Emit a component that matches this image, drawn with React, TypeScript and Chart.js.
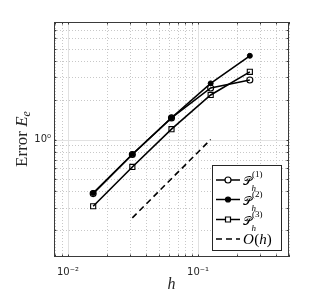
import React, { useEffect, useRef } from 'react';
import { Chart, registerables } from 'chart.js';
Chart.register(...registerables);

const hValues = [0.015625, 0.03125, 0.0625, 0.125, 0.25];
const errP1 = [0.384, 0.767, 1.466, 2.49, 2.87];
const errP2 = [0.388, 0.77, 1.47, 2.7, 4.4];
const errP3 = [0.307, 0.615, 1.2, 2.2, 3.31];
const hRef = [0.03125, 0.125];
const orderRef = [0.25, 1.0];
const xLimits = [0.0078125, 0.5];
const yLimits = [0.125, 8];
const xTickValues = [0.01, 0.1];
const xTickLabels = ['10⁻²', '10⁻¹'];
const yTickValues = [1];
const yTickLabels = ['10⁰'];
const legendSup = ['(1)', '(2)', '(3)'];

const SERIF = "'Liberation Serif', 'DejaVu Serif', serif";

function logGrid(min: number, max: number) {
  const out: { v: number; major: boolean }[] = [];
  for (let e = -4; e <= 2; e++) {
    for (let m = 1; m <= 9; m++) {
      const v = m * Math.pow(10, e);
      if (v >= min * 0.9999 && v <= max * 1.0001) out.push({ v, major: m === 1 });
    }
  }
  return out;
}

const gridPlugin = {
  id: 'matlabGrid',
  beforeDatasetsDraw(chart: any) {
    const { ctx, chartArea: a, scales } = chart;
    const xs = scales.x, ys = scales.y;
    ctx.save();
    const draw = (major: boolean) => {
      ctx.strokeStyle = major ? '#e2e2e2' : '#c8c8c8';
      ctx.lineWidth = 1;
      ctx.setLineDash(major ? [] : [1, 2]);
      logGrid(xLimits[0], xLimits[1]).filter(g => g.major === major).forEach(g => {
        const px = Math.round(xs.getPixelForValue(g.v)) + 0.5;
        ctx.beginPath(); ctx.moveTo(px, a.top); ctx.lineTo(px, a.bottom); ctx.stroke();
      });
      logGrid(yLimits[0], yLimits[1]).filter(g => g.major === major).forEach(g => {
        const py = Math.round(ys.getPixelForValue(g.v)) + 0.5;
        ctx.beginPath(); ctx.moveTo(a.left, py); ctx.lineTo(a.right, py); ctx.stroke();
      });
    };
    draw(false);
    draw(true);
    ctx.restore();
  },
  afterDatasetsDraw(chart: any) {
    const { ctx, chartArea: a, scales } = chart;
    const xs = scales.x, ys = scales.y;
    ctx.save();
    ctx.setLineDash([]);
    ctx.strokeStyle = '#3a3a3a';
    ctx.lineWidth = 1;
    const tl = 2.5;
    logGrid(xLimits[0], xLimits[1]).forEach(g => {
      const px = Math.round(xs.getPixelForValue(g.v)) + 0.5;
      ctx.beginPath();
      ctx.moveTo(px, a.bottom); ctx.lineTo(px, a.bottom - tl);
      ctx.moveTo(px, a.top); ctx.lineTo(px, a.top + tl);
      ctx.stroke();
    });
    logGrid(yLimits[0], yLimits[1]).forEach(g => {
      const py = Math.round(ys.getPixelForValue(g.v)) + 0.5;
      ctx.beginPath();
      ctx.moveTo(a.left, py); ctx.lineTo(a.left + tl, py);
      ctx.moveTo(a.right, py); ctx.lineTo(a.right - tl, py);
      ctx.stroke();
    });
    ctx.strokeRect(Math.round(a.left) + 0.5, Math.round(a.top) + 0.5, Math.round(a.right - a.left) - 1, Math.round(a.bottom - a.top) - 1);
    ctx.restore();
  },
  afterDraw(chart: any) {
    const { ctx, chartArea: a } = chart;
    ctx.save();
    ctx.fillStyle = '#262626';
    // x title
    ctx.font = `italic 16px ${SERIF}`;
    ctx.textAlign = 'center';
    ctx.textBaseline = 'alphabetic';
    ctx.fillText('h', (a.left + a.right) / 2, 289);
    // y title
    ctx.save();
    ctx.translate(27, 139);
    ctx.rotate(-Math.PI / 2);
    ctx.textAlign = 'left';
    const t1 = 'Error ';
    ctx.font = `17px ${SERIF}`;
    const w1 = ctx.measureText(t1).width;
    ctx.font = `italic 17px ${SERIF}`;
    const w2 = ctx.measureText('E').width;
    ctx.font = `italic 12px ${SERIF}`;
    const w3 = ctx.measureText('e').width;
    const total = w1 + w2 + w3;
    const x0 = -total / 2;
    ctx.font = `17px ${SERIF}`;
    ctx.fillText(t1, x0, 0);
    ctx.font = `italic 17px ${SERIF}`;
    ctx.fillText('E', x0 + w1, 0);
    ctx.font = `italic 12px ${SERIF}`;
    ctx.fillText('e', x0 + w1 + w2, 3);
    ctx.restore();

    // legend
    const L = 212.5, T = 165.5, R = 281.5, B = 250.5;
    ctx.fillStyle = '#ffffff';
    ctx.fillRect(L, T, R - L, B - T);
    ctx.strokeStyle = '#262626';
    ctx.lineWidth = 1;
    ctx.strokeRect(L, T, R - L, B - T);
    const rows = [180, 199.5, 219.5, 239];
    const ds = chart.data.datasets;
    rows.forEach((ry, i) => {
      const d = ds[i];
      ctx.strokeStyle = '#000';
      ctx.lineWidth = 1.5;
      ctx.setLineDash(i === 3 ? [6, 4] : []);
      ctx.beginPath(); ctx.moveTo(216, ry); ctx.lineTo(240, ry); ctx.stroke();
      ctx.setLineDash([]);
      if (i < 3) {
        const cx = 228;
        ctx.beginPath();
        if (d.pointStyle === 'rect') {
          ctx.rect(cx - 2.5, ry - 2.5, 5, 5);
          ctx.fillStyle = '#fff';
          ctx.fill();
        } else {
          ctx.arc(cx, ry, d.pointRadius, 0, Math.PI * 2);
          ctx.fillStyle = d.pointBackgroundColor === '#000' ? '#000' : '#fff';
          ctx.fill();
        }
        ctx.lineWidth = 1.2;
        ctx.stroke();
        ctx.fillStyle = '#000';
        ctx.textAlign = 'left';
        ctx.font = `12px ${SERIF}`;
        ctx.fillText('𝒫', 243, ry + 5);
        const pw = Math.min(ctx.measureText('𝒫').width, 12);
        ctx.font = `italic 9px ${SERIF}`;
        ctx.fillText('h', 243 + pw - 0.5, ry + 11);
        ctx.font = `9px ${SERIF}`;
        ctx.fillText(legendSup[i], 243 + pw, ry - 3);
      } else {
        ctx.fillStyle = '#000';
        ctx.textAlign = 'left';
        ctx.font = `italic 15px ${SERIF}`;
        let x = 243;
        ctx.fillText('O', x, ry + 5); x += ctx.measureText('O').width + 0.5;
        ctx.font = `15px ${SERIF}`;
        ctx.fillText('(', x, ry + 5); x += ctx.measureText('(').width;
        ctx.font = `italic 15px ${SERIF}`;
        ctx.fillText('h', x, ry + 5); x += ctx.measureText('h').width;
        ctx.font = `15px ${SERIF}`;
        ctx.fillText(')', x, ry + 5);
      }
    });
    ctx.restore();
  },
};

export default function App() {
  const ref = useRef<HTMLCanvasElement | null>(null);
  useEffect(() => {
    document.body.style.margin = '0';
    const canvas = ref.current!;
    const pts = (xs: number[], ys: number[]) => xs.map((x, i) => ({ x, y: ys[i] }));
    const chart = new Chart(canvas, {
      type: 'line',
      data: {
        datasets: [
          { label: 'P1', data: pts(hValues, errP1), borderColor: '#000', borderWidth: 1.6, pointStyle: 'circle', pointRadius: 3, pointBorderWidth: 1.1, pointBorderColor: '#000', pointBackgroundColor: 'rgba(0,0,0,0)' },
          { label: 'P2', data: pts(hValues, errP2), borderColor: '#000', borderWidth: 1.6, pointStyle: 'circle', pointRadius: 2.5, pointBorderWidth: 1, pointBorderColor: '#000', pointBackgroundColor: '#000' },
          { label: 'P3', data: pts(hValues, errP3), borderColor: '#000', borderWidth: 1.6, pointStyle: 'rect', pointRadius: 3.6, pointBorderWidth: 1.1, pointBorderColor: '#000', pointBackgroundColor: 'rgba(0,0,0,0)' },
          { label: 'O(h)', data: pts(hRef, orderRef), borderColor: '#000', borderWidth: 1.6, borderDash: [6, 4], pointRadius: 0 },
        ] as any,
      },
      options: {
        responsive: false,
        animation: false,
        layout: { padding: { top: 22, right: 43, left: 0, bottom: 0 } },
        plugins: { legend: { display: false }, tooltip: { enabled: false } },
        scales: {
          x: {
            type: 'logarithmic',
            min: xLimits[0],
            max: xLimits[1],
            grid: { display: false, drawTicks: false },
            border: { display: false },
            afterBuildTicks: (s: any) => { s.ticks = xTickValues.map(v => ({ value: v })); },
            afterFit: (s: any) => { s.height = 38; },
            ticks: {
              autoSkip: false, maxRotation: 0, padding: 9, color: '#262626',
              font: { family: "'DejaVu Sans', 'Liberation Sans', sans-serif", size: 10 },
              callback: (v: any) => { const i = xTickValues.findIndex(t => Math.abs(t - v) < 1e-9); return i >= 0 ? xTickLabels[i] : ''; },
            },
          },
          y: {
            type: 'logarithmic',
            min: yLimits[0],
            max: yLimits[1],
            grid: { display: false, drawTicks: false },
            border: { display: false },
            afterBuildTicks: (s: any) => { s.ticks = yTickValues.map(v => ({ value: v })); },
            afterFit: (s: any) => { s.width = 54; },
            ticks: {
              autoSkip: false, padding: 3, color: '#262626',
              font: { family: "'DejaVu Sans', 'Liberation Sans', sans-serif", size: 10 },
              callback: (v: any) => { const i = yTickValues.findIndex(t => Math.abs(t - v) < 1e-9); return i >= 0 ? yTickLabels[i] : ''; },
            },
          },
        },
      } as any,
      plugins: [gridPlugin],
    });
    return () => chart.destroy();
  }, []);
  return <canvas ref={ref} width={332} height={295} style={{ display: 'block' }} />;
}
